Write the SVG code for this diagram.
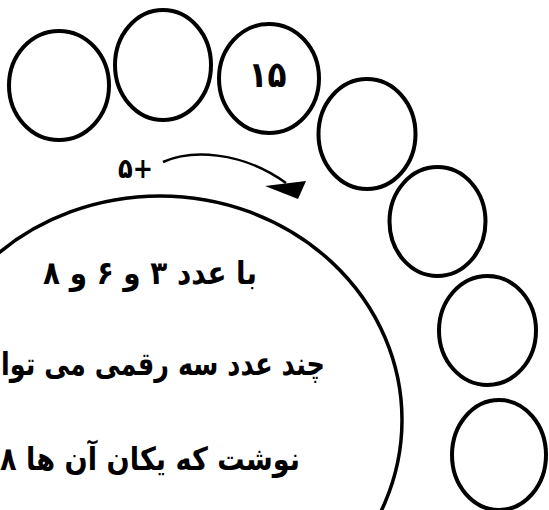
<svg xmlns="http://www.w3.org/2000/svg" width="549" height="510" viewBox="0 0 549 510">
<style>
.c{fill:none;stroke:#000;stroke-width:4}
.big{fill:none;stroke:#000;stroke-width:3.5}
.t{font-family:"DejaVu Sans",sans-serif;font-weight:bold;fill:#000}
.arr{fill:none;stroke:#000;stroke-width:2.5}
</style>
<rect width="549" height="510" fill="#fff"/>
<g id="circle1"><ellipse class="c" cx="59" cy="85.5" rx="50" ry="54.5"/></g>
<g id="circle2"><ellipse class="c" cx="163" cy="65" rx="48" ry="55"/></g>
<g id="circle3"><ellipse class="c" cx="269" cy="78.5" rx="50" ry="54.5"/>
<text class="t" x="267.5" y="87" font-size="36" text-anchor="middle" direction="ltr" textLength="38" lengthAdjust="spacingAndGlyphs">۱۵</text></g>
<g id="circle4"><ellipse class="c" cx="367" cy="134" rx="48.5" ry="55"/></g>
<g id="circle5"><ellipse class="c" cx="437.5" cy="221.5" rx="48" ry="54.5"/></g>
<g id="circle6"><ellipse class="c" cx="487.5" cy="330.5" rx="48.5" ry="54.5"/></g>
<g id="circle7"><ellipse class="c" cx="499" cy="455" rx="47" ry="55"/></g>
<g id="connectors">
<path class="arr" d="M163,162 C190,150 240,150 286,183"/>
<polygon points="265,186 306,181 298,199" fill="#000"/>
<text class="t" x="135.5" y="178" font-size="28" text-anchor="middle" direction="ltr" textLength="35" lengthAdjust="spacingAndGlyphs">۵+</text>
</g>
<g id="bigCircle">
<ellipse class="big" cx="160" cy="420" rx="242" ry="224"/>
<text class="t" x="150" y="284" font-size="32" text-anchor="middle" direction="rtl" textLength="214" lengthAdjust="spacingAndGlyphs">با عدد ۳ و ۶ و ۸</text>
<text class="t" x="163" y="375" font-size="32" text-anchor="middle" direction="rtl" textLength="324" lengthAdjust="spacingAndGlyphs">چند عدد سه رقمی می توا</text>
<text class="t" x="150" y="470" font-size="32" text-anchor="middle" direction="rtl" textLength="300" lengthAdjust="spacingAndGlyphs">نوشت که یکان آن ها ۸</text>
</g>
</svg>
